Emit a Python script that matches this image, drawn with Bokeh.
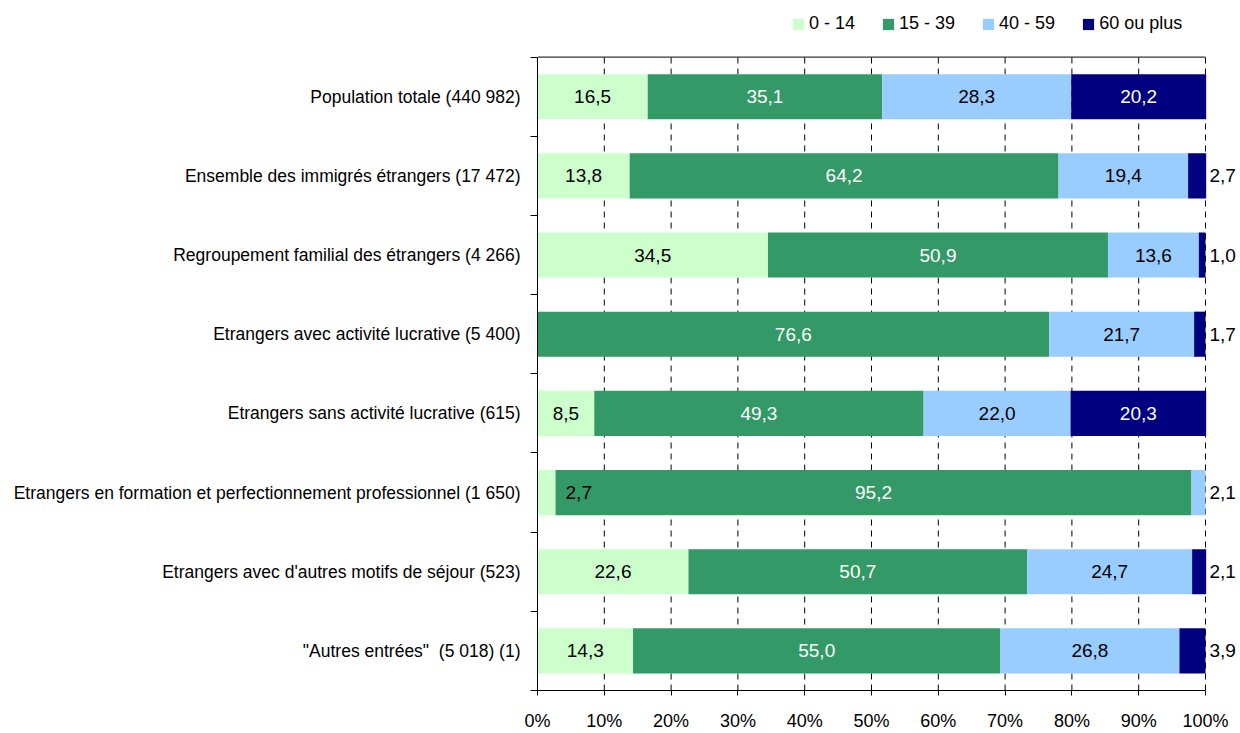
from bokeh.plotting import figure
from bokeh.models import (ColumnDataSource, Range1d, FixedTicker, LabelSet,
                          Legend, LegendItem, PrintfTickFormatter)
from bokeh.core.properties import value
from bokeh.embed import file_html
from bokeh.resources import INLINE

categories = [
    "Population totale (440 982)",
    "Ensemble des immigrés étrangers (17 472)",
    "Regroupement familial des étrangers (4 266)",
    "Etrangers avec activité lucrative (5 400)",
    "Etrangers sans activité lucrative (615)",
    "Etrangers en formation et perfectionnement professionnel (1 650)",
    "Etrangers avec d'autres motifs de séjour (523)",
    "\"Autres entrées\"\u00a0 (5 018) (1)",
]
age_groups = ["0 - 14", "15 - 39", "40 - 59", "60 ou plus"]
v_0_14 = [16.5, 13.8, 34.5, 0.0, 8.5, 2.7, 22.6, 14.3]
v_15_39 = [35.1, 64.2, 50.9, 76.6, 49.3, 95.2, 50.7, 55.0]
v_40_59 = [28.3, 19.4, 13.6, 21.7, 22.0, 2.1, 24.7, 26.8]
v_60_plus = [20.2, 2.7, 1.0, 1.7, 20.3, 0.0, 2.1, 3.9]
x_ticks = list(range(0, 101, 10))

colors = ["#CCFFCC", "#339966", "#99CCFF", "#000080"]
label_colors = ["black", "white", "black", "white"]
FONT = "Liberation Sans"
FS = "18px"
FS_DATA = "19px"
FS_CAT = "17.5px"

n = len(categories)
ypos = [2 * (n - i) - 1 for i in range(n)]
series = [v_0_14, v_15_39, v_40_59, v_60_plus]
keys = ["g0", "g1", "g2", "g3"]

src = ColumnDataSource(dict(y=ypos, g0=v_0_14, g1=v_15_39, g2=v_40_59, g3=v_60_plus))

# frame: x 537..1240 px (100% at 1205), y 0..692 px (row pitch 79.4 px)
p = figure(width=1240, height=733, output_backend="svg", toolbar_location=None,
           x_range=Range1d(0, 105.24), y_range=Range1d(0, 17.43),
           min_border_left=537, min_border_right=0, min_border_top=0, min_border_bottom=41)
p.outline_line_color = None
p.background_fill_color = "white"
p.border_fill_color = "white"
p.xgrid.grid_line_color = None
p.ygrid.grid_line_color = None

# dashed vertical gridlines and top border line
gx = x_ticks[1:]
p.segment(x0=gx, x1=gx, y0=[0] * len(gx), y1=[2 * n] * len(gx),
          line_color="black", line_width=1, line_dash="6 5")
p.segment(x0=[x_ticks[0]], x1=[x_ticks[-1]], y0=[2 * n], y1=[2 * n],
          line_color="black", line_width=1)

renderers = p.hbar_stack(keys, y="y", height=1.14, color=colors, line_color=None, source=src)

# labels
lx, ly, lt, lc, la, lo = [], [], [], [], [], []
for i in range(n):
    start = 0.0
    for j, s in enumerate(series):
        v = s[i]
        if v > 0:
            txt = f"{v:.1f}".replace(".", ",")
            if v >= 5:
                lx.append(start + v / 2); la.append("center"); lo.append(0); lc.append(label_colors[j])
            elif start == 0:
                lx.append(start + v); la.append("left"); lo.append(10); lc.append("black")
            else:
                lx.append(x_ticks[-1]); la.append("left"); lo.append(4); lc.append("black")
            ly.append(ypos[i]); lt.append(txt)
        start += v
lsrc = ColumnDataSource(dict(x=lx, y=ly, t=lt, c=lc, a=la, o=lo))
labels = LabelSet(x="x", y="y", text="t", source=lsrc, text_color="c", text_align="a",
                  x_offset="o", text_baseline="middle", text_font=value(FONT),
                  text_font_size=value(FS_DATA))
p.add_layout(labels)

# x axis
p.xaxis.bounds = (x_ticks[0], x_ticks[-1])
p.xaxis.ticker = FixedTicker(ticks=x_ticks, minor_ticks=[])
p.xaxis.formatter = PrintfTickFormatter(format="%d%%")
p.xaxis.major_tick_out = 5
p.xaxis.major_tick_in = 0
p.xaxis.minor_tick_out = 0
p.xaxis.minor_tick_in = 0
p.xaxis.axis_line_color = "black"
p.xaxis.major_tick_line_color = "black"
p.xaxis.major_label_standoff = 15
p.xaxis.major_label_text_font = FONT
p.xaxis.major_label_text_font_size = FS
p.xaxis.major_label_text_color = "black"

# y axis
p.yaxis.bounds = (0, 2 * n)
p.yaxis.ticker = FixedTicker(ticks=ypos, minor_ticks=list(range(0, 2 * n + 1, 2)))
p.yaxis.major_label_overrides = {ypos[i]: categories[i] for i in range(n)}
p.yaxis.major_tick_out = 0
p.yaxis.major_tick_in = 0
p.yaxis.minor_tick_out = 7
p.yaxis.minor_tick_in = 0
p.yaxis.minor_tick_line_color = "black"
p.yaxis.axis_line_color = "black"
p.yaxis.major_label_standoff = 10
p.yaxis.major_label_text_font = FONT
p.yaxis.major_label_text_font_size = FS_CAT
p.yaxis.major_label_text_color = "black"

legend = Legend(items=[LegendItem(label=age_groups[j], renderers=[renderers[j]]) for j in range(4)],
                orientation="horizontal", location=(254, 656),
                glyph_width=14, glyph_height=14, label_standoff=4, spacing=26,
                padding=0, margin=0, border_line_color=None, background_fill_alpha=0,
                label_text_font=FONT, label_text_font_size=FS, label_text_color="black",
                label_height=20)
p.add_layout(legend)

open("out.html", "w").write(file_html(p, INLINE))
